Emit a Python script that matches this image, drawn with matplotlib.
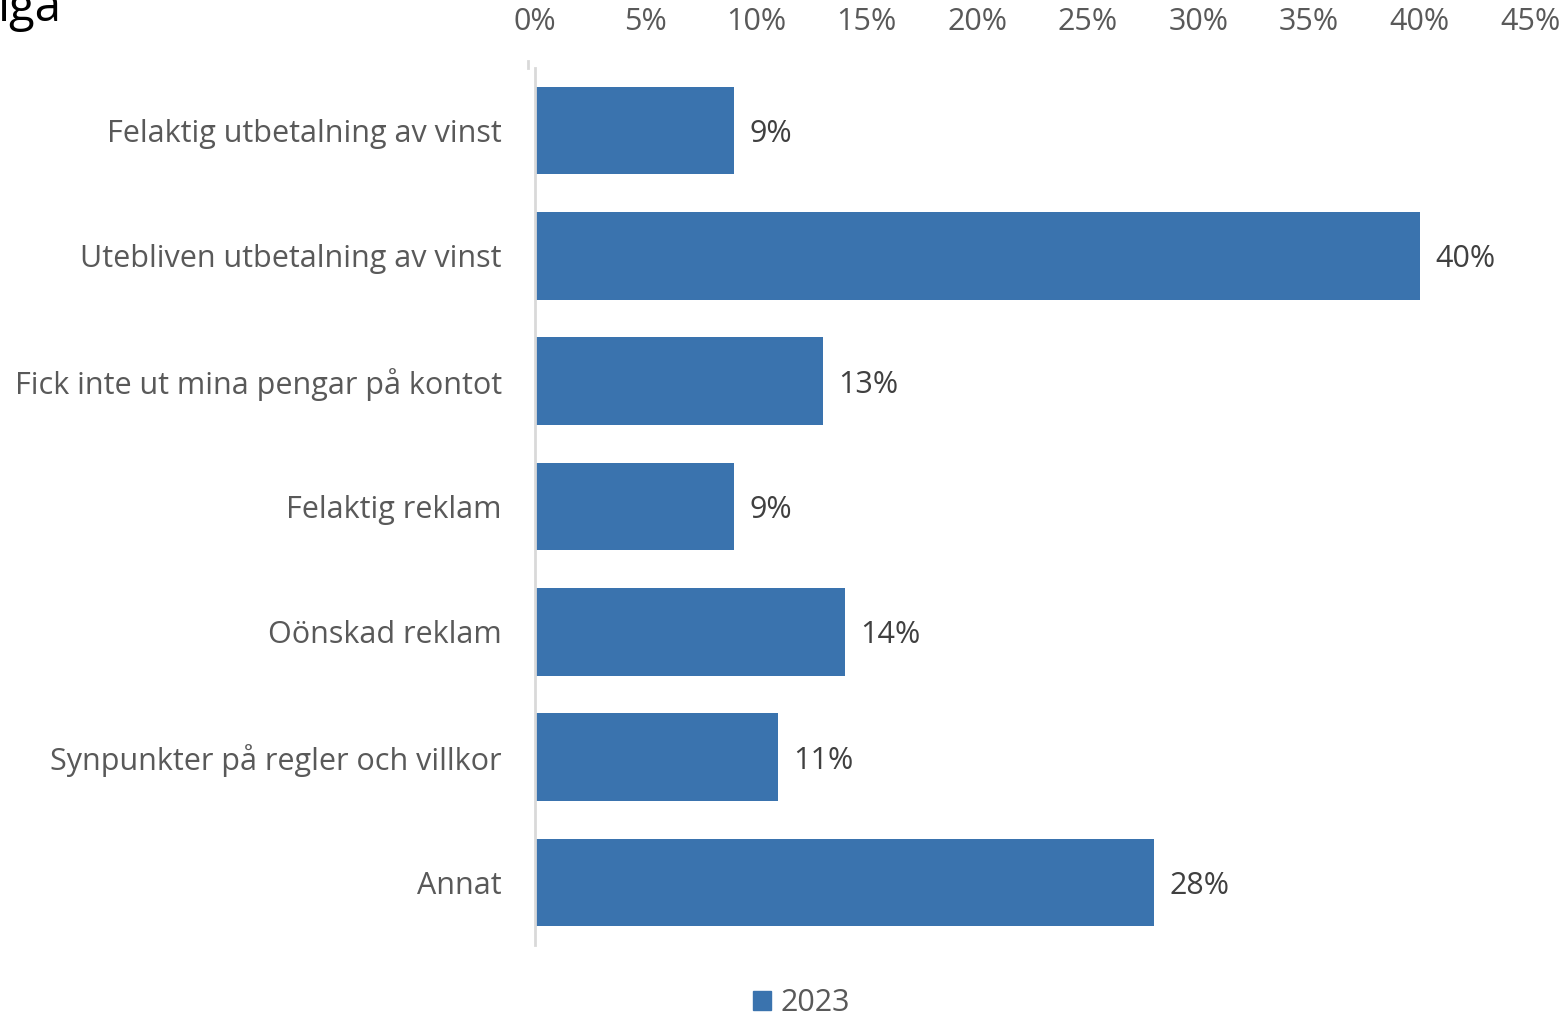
"""
plot.py - Reklamationer per kategori 2023, horisontellt stapeldiagram.
"""

import matplotlib.pyplot as plt
from matplotlib.patches import Patch

# DATA
CATEGORIES = [
    "Felaktig utbetalning av vinst",
    "Utebliven utbetalning av vinst",
    "Fick inte ut mina pengar på kontot",
    "Felaktig reklam",
    "Oönskad reklam",
    "Synpunkter på regler och villkor",
    "Annat",
]
VALUES_2023 = [9, 40, 13, 9, 14, 11, 28]
X_TICKS = [0, 5, 10, 15, 20, 25, 30, 35, 40, 45]
SERIES_LABEL = "2023"

BAR_COLOR = "#3A73AE"
TEXT_COLOR = "#595959"
AXIS_COLOR = "#D9D9D9"
FONT_SIZE = 22

plt.rcParams["font.family"] = ["Open Sans", "DejaVu Sans"]

fig = plt.figure(figsize=(15.63, 10.18), dpi=100)
ax = fig.add_axes([0.3423, 0.0717, 0.6367, 0.8615])

positions = list(range(len(CATEGORIES)))
ax.barh(positions, VALUES_2023, height=0.7, color=BAR_COLOR)

for pos, val in zip(positions, VALUES_2023):
    ax.annotate(
        f"{val}%",
        xy=(val, pos),
        xytext=(11, 0),
        textcoords="offset points",
        va="center_baseline",
        ha="left",
        fontsize=FONT_SIZE,
        color="#404040",
    )

ax.set_xlim(0, 45)
ax.set_ylim(len(CATEGORIES) - 0.5, -0.5)
ax.set_xticks(X_TICKS)
ax.set_xticklabels([f"{t}%" for t in X_TICKS])
ax.xaxis.tick_top()
ax.tick_params(axis="x", length=0, labelsize=FONT_SIZE, labelcolor=TEXT_COLOR, pad=22)
ax.set_yticks(positions)
ax.set_yticklabels(CATEGORIES)
ax.tick_params(axis="y", length=0, labelsize=FONT_SIZE, labelcolor=TEXT_COLOR, pad=24)

for side in ["top", "right", "bottom"]:
    ax.spines[side].set_visible(False)
ax.spines["left"].set_color(AXIS_COLOR)
ax.spines["left"].set_linewidth(2)

# small stub at the top of the axis
fig.add_artist(
    plt.Line2D([528 / 1563, 528 / 1563], [1 - 61 / 1018, 1 - 68 / 1018],
               color=AXIS_COLOR, linewidth=2)
)

# cut-off title fragment in the top-left corner
fig.text(-0.002, 1 - 21 / 1018, "iga", fontsize=34, color="black",
         ha="left", va="baseline")

fig.legend(
    handles=[Patch(color=BAR_COLOR, label=SERIES_LABEL)],
    loc="center",
    bbox_to_anchor=(0.5125, 1 - 1003 / 1018),
    frameon=False,
    fontsize=FONT_SIZE,
    labelcolor=TEXT_COLOR,
    handlelength=0.6,
    handleheight=0.6,
    handletextpad=0.3,
)

fig.savefig("out.png", dpi=100)
plt.close(fig)
